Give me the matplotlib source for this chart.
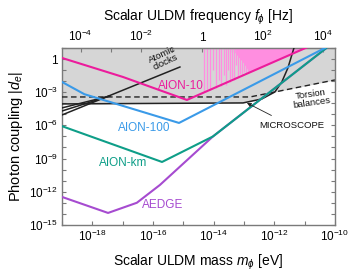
import numpy as np
import matplotlib
matplotlib.use("Agg")
import matplotlib.pyplot as plt
from matplotlib.ticker import FixedLocator, FuncFormatter, NullLocator

plt.rcParams['font.family'] = ['Liberation Sans', 'DejaVu Sans']
plt.rcParams['mathtext.fontset'] = 'custom'
plt.rcParams['mathtext.rm'] = 'Liberation Sans'
plt.rcParams['mathtext.it'] = 'Liberation Sans:italic'
plt.rcParams['mathtext.bf'] = 'Liberation Sans:bold'

# ---- data (log10 of mass [eV], log10 of |d_e|) ----
aion10_logm = [-19.0, -16.99, -14.88, -10.5]
aion10_logd = [0.10, -1.62, -3.70, 1.56]

aion100_logm = [-19.0, -18.26, -15.14, -10.33]
aion100_logd = [-2.07, -3.18, -5.78, 1.0]

aionkm_logm = [-19.0, -15.70, -14.02, -10.0]
aionkm_logd = [-6.07, -9.31, -7.0, 1.6]

aedge_logm = [-19.0, -17.48, -16.53, -15.77, -14.02, -10.0]
aedge_logd = [-12.47, -13.92, -13.0, -11.39, -7.0, 1.6]

clock_main_logm = [-19.0, -15.11]
clock_main_logd = [-5.06, -0.72]
clock_band_logm = [[-19.0, -17.42], [-19.0, -17.42]]
clock_band_logd = [[-4.42, -3.34], [-4.70, -3.34]]

micro_logm = [-19.0, -13.03, -12.41, -11.98, -11.75, -11.55, -11.42, -11.35, -11.30]
micro_logd = [-4.06, -3.97, -3.61, -2.98, -2.07, -0.81, 0.37, 1.0, 1.5]

torsion_logm = [-19.0, -12.80, -10.0]
torsion_logd = [-3.43, -3.43, -1.89]

# resonant-mode spikes of AION-10
spike_logm = [-14.318, -14.219, -14.118, -14.021, -13.923, -13.823, -13.758, -13.659,
              -13.593, -13.527, -13.461, -13.395, -13.329, -13.263, -13.197, -13.131,
              -13.065, -12.999, -12.934, -12.868]
spike_logd = [-2.98, -2.71, -2.80, -1.0, -2.62, -1.89, -2.44, -1.44, -2.35, -1.0,
              -2.07, -1.71, -1.89, -0.54, -1.71, -1.35, -1.53, -1.17, -1.35, -1.26]
res_env_logm = [-13.30, -13.0, -12.80, -11.0]
res_env_logd = [0.6, -0.4, -1.3, -1.3]

xlim = (1e-19, 1e-10)
ylim = (1e-15, 1e1)

c_pink = '#ec1c9c'
c_lpink = '#ff8ee0'
c_blue = '#3a9ae8'
c_teal = '#0e9e88'
c_purple = '#a64bd0'
c_gray = '#d6d6d6'

fig = plt.figure(figsize=(3.54, 2.79), dpi=100)
ax = fig.add_axes([0.175, 0.194, 0.771, 0.634])
ax.set_xscale('log')
ax.set_yscale('log')
ax.set_xlim(*xlim)
ax.set_ylim(*ylim)

P = lambda a: 10.0 ** np.asarray(a, dtype=float)

# excluded gray region above min(MICROSCOPE, torsion)
lm = np.linspace(-19, -10, 800)
mic = np.interp(lm, micro_logm, micro_logd)
mic[lm > micro_logm[-1]] = 5
tor = np.interp(lm, torsion_logm, torsion_logd)
bound = np.minimum(mic, tor)
ax.fill_between(P(lm), P(bound), 1e3, color=c_gray, lw=0, zorder=0)

# resonant pink region
lm2 = np.linspace(-13.3, -11.0, 300)
line10 = np.interp(lm2, aion10_logm, aion10_logd)
env = np.interp(lm2, res_env_logm, res_env_logd)
ax.fill_between(P(lm2), P(np.maximum(line10, env)), 1e3, color=c_lpink, lw=0, zorder=1)
ax.vlines(P(spike_logm), P(spike_logd), 1e3, color=c_lpink, lw=0.9, zorder=1)

# constraints
ax.plot(P(micro_logm), P(micro_logd), color='#222222', lw=1.1, zorder=3)
ax.plot(P(torsion_logm), P(torsion_logd), color='#222222', lw=1.0, ls=(0, (4, 2.5)), zorder=3)
ax.plot(P(clock_main_logm), P(clock_main_logd), color='#222222', lw=1.1, zorder=3)
for bm, bd in zip(clock_band_logm, clock_band_logd):
    ax.plot(P(bm), P(bd), color='#222222', lw=1.1, zorder=3)

# projections
ax.plot(P(aedge_logm), P(aedge_logd), color=c_purple, lw=1.5, zorder=4)
ax.plot(P(aionkm_logm), P(aionkm_logd), color=c_teal, lw=1.5, zorder=5)
ax.plot(P(aion100_logm), P(aion100_logd), color=c_blue, lw=1.5, zorder=5)
ax.plot(P(aion10_logm), P(aion10_logd), color=c_pink, lw=1.5, zorder=6)

# labels
ax.text(P(-15.07), P(-2.44), 'AION-10', color=c_pink, fontsize=8.5, ha='center', va='center', zorder=7)
ax.text(P(-16.30), P(-6.23), 'AION-100', color=c_blue, fontsize=8.5, ha='center', va='center', zorder=7)
ax.text(P(-16.99), P(-9.40), 'AION-km', color=c_teal, fontsize=8.5, ha='center', va='center', zorder=7)
ax.text(P(-15.67), P(-13.2), 'AEDGE', color=c_purple, fontsize=8.5, ha='center', va='center', zorder=7)
ax.text(P(-15.65), P(0.05), 'Atomic\nclocks', color='#111111', fontsize=6.8, ha='center', va='center',
        rotation=25, linespacing=0.9, zorder=7)
ax.text(P(-10.79), P(-3.6), 'Torsion\nbalances', color='#111111', fontsize=6.8, ha='center', va='center',
        rotation=8, linespacing=1.0, zorder=7)
ax.annotate('MICROSCOPE', xy=(P(-12.9), P(-3.97)), xytext=(P(-11.42), P(-6.05)),
            fontsize=6.8, ha='center', va='center', color='#111111',
            arrowprops=dict(arrowstyle='-|>', color='#222222', lw=0.6, mutation_scale=6,
                            shrinkA=5, shrinkB=0), zorder=7)

# axes styling
for s in ax.spines.values():
    s.set_color('#7a7a7a')
    s.set_linewidth(1.0)

def pow_fmt(v, pos):
    e = int(round(np.log10(v)))
    if e == 0:
        return '1'
    return r'$10^{%d}$' % e

xt = P(np.arange(-19, -9))
ax.xaxis.set_major_locator(FixedLocator(xt))
ax.xaxis.set_minor_locator(NullLocator())
ax.xaxis.set_major_formatter(FuncFormatter(lambda v, p: pow_fmt(v, p) if int(round(np.log10(v))) % 2 == 0 else ''))
yt = P(np.arange(-15, 2))
ax.yaxis.set_major_locator(FixedLocator(yt))
ax.yaxis.set_minor_locator(NullLocator())
ax.yaxis.set_major_formatter(FuncFormatter(lambda v, p: pow_fmt(v, p) if int(round(np.log10(v))) % 3 == 0 else ''))
ax.tick_params(axis='both', which='both', direction='in', length=3, width=0.8, color='#7a7a7a',
               labelsize=8.5, right=True, top=False, pad=3)

h_evs = 4.135667e-15
secax = ax.secondary_xaxis('top', functions=(lambda m: m / h_evs, lambda f: f * h_evs))
secax.set_xscale('log')
ft = P(np.arange(-5, 5))
secax.xaxis.set_major_locator(FixedLocator(ft))
secax.xaxis.set_minor_locator(NullLocator())
secax.xaxis.set_major_formatter(FuncFormatter(lambda v, p: pow_fmt(v, p) if int(round(np.log10(v))) % 2 == 0 else ''))
secax.tick_params(axis='x', which='both', direction='in', length=3, width=0.8, color='#7a7a7a',
                  labelsize=8.5, pad=3)
secax.spines['top'].set_color('#7a7a7a')
secax.set_xlabel(r'Scalar ULDM frequency $f_\phi$ [Hz]', fontsize=10, labelpad=6)

ax.set_xlabel(r'Scalar ULDM mass $m_\phi$ [eV]', fontsize=10, labelpad=6)
ax.set_ylabel(r'Photon coupling $|d_e|$', fontsize=10.5, labelpad=3)

fig.savefig('out.png', dpi=100)
